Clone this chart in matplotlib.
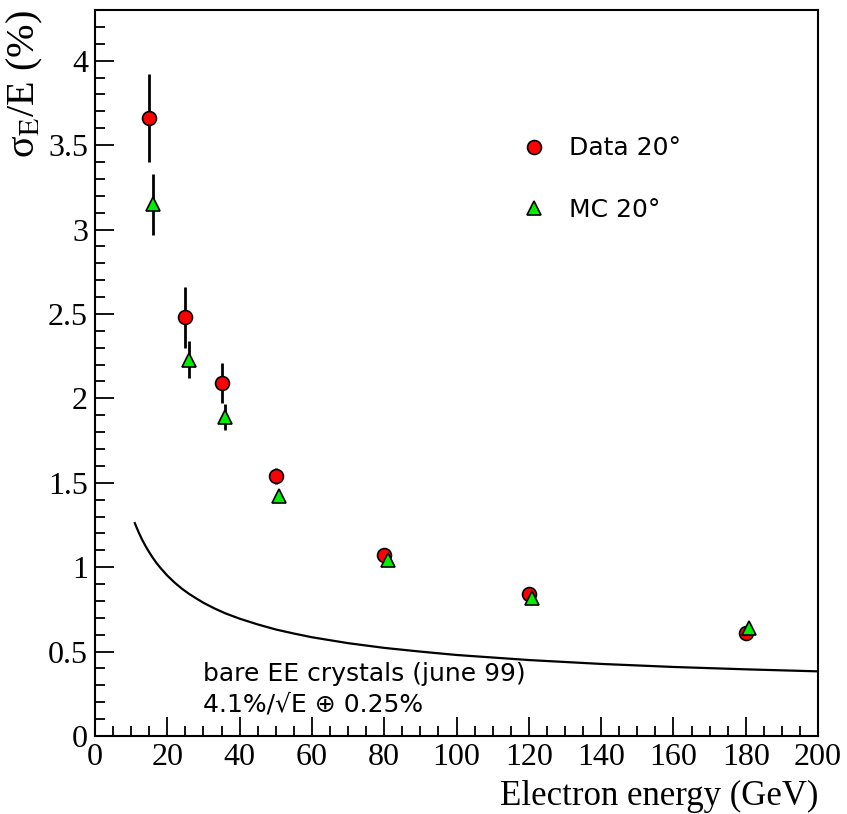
import matplotlib
matplotlib.use("Agg")
import matplotlib.pyplot as plt
from matplotlib.ticker import MultipleLocator, FuncFormatter

# test-beam resolution, 20 degree incidence
DATA_E = [15, 25, 35, 50, 80, 120, 180]
DATA_RES = [3.66, 2.48, 2.09, 1.54, 1.07, 0.84, 0.61]
DATA_ERR = [0.26, 0.18, 0.12, 0.05, 0.03, 0.02, 0.03]

MC_E = [16, 26, 36, 51, 81, 121, 181]
MC_RES = [3.15, 2.23, 1.89, 1.42, 1.04, 0.82, 0.64]
MC_ERR = [0.18, 0.11, 0.075, 0.03, 0.015, 0.015, 0.015]

# bare crystal curve
CURVE_E = [11, 12, 13, 14, 15, 16, 17, 18, 20, 22, 24, 26, 28, 30, 33, 36,
           40, 45, 50, 55, 60, 70, 80, 90, 100, 120, 140, 160, 180, 200]
CURVE_RES = [1.261, 1.210, 1.164, 1.124, 1.088, 1.055, 1.025, 0.998, 0.950,
             0.909, 0.873, 0.842, 0.815, 0.789, 0.756, 0.727, 0.695, 0.661,
             0.631, 0.607, 0.585, 0.550, 0.522, 0.500, 0.480, 0.450, 0.427,
             0.409, 0.395, 0.383]

LABELS = ["Data 20°", "MC 20°"]

serif = "Liberation Serif"
plt.rcParams["mathtext.fontset"] = "stix"

fig = plt.figure(figsize=(8.47, 8.14), dpi=100)
ax = fig.add_axes([0.1122, 0.0958, 0.8536, 0.8919])

ax.plot(CURVE_E, CURVE_RES, color="black", lw=1.6)

ax.errorbar(DATA_E, DATA_RES, yerr=DATA_ERR, fmt="none", ecolor="black",
            elinewidth=2, capsize=0)
ax.errorbar(MC_E, MC_RES, yerr=MC_ERR, fmt="none", ecolor="black",
            elinewidth=2, capsize=0)
h1, = ax.plot(DATA_E, DATA_RES, "o", ms=10, mfc="#ff0000", mec="black",
              mew=1.2, ls="none", label=LABELS[0])
h2, = ax.plot(MC_E, MC_RES, "^", ms=10, mfc="#00ee00", mec="black",
              mew=1.2, ls="none", label=LABELS[1])

ax.set_xlim(0, 200)
ax.set_ylim(0, 4.3)
ax.xaxis.set_major_locator(MultipleLocator(20))
ax.xaxis.set_minor_locator(MultipleLocator(5))
ax.yaxis.set_major_locator(MultipleLocator(0.5))
ax.yaxis.set_minor_locator(MultipleLocator(0.1))
ax.yaxis.set_major_formatter(FuncFormatter(lambda v, p: f"{v:g}"))
ax.tick_params(which="both", direction="in", top=False, right=False,
               labelsize=23, width=1.3)
ax.tick_params(which="major", length=14, pad=5)
ax.tick_params(which="minor", length=7)
for lab in ax.get_xticklabels() + ax.get_yticklabels():
    lab.set_fontfamily(serif)
for sp in ax.spines.values():
    sp.set_linewidth(1.5)

ax.set_xlabel("Electron energy (GeV)", fontfamily=serif, fontsize=25,
              loc="right", labelpad=6)
ax.set_ylabel(r"σ$_{\mathrm{E}}$/E (%)", fontfamily=serif, fontsize=29,
              loc="top", labelpad=2)

ax.legend(handles=[h1, h2], loc="upper left", bbox_to_anchor=(0.541, 0.857),
          frameon=False, labelspacing=1.5, handletextpad=0.4,
          prop={"family": "DejaVu Sans", "size": 18})

ax.text(0.15, 0.085, "bare EE crystals (june 99)", transform=ax.transAxes,
        fontsize=18, family="DejaVu Sans", va="center")
ax.text(0.15, 0.043, "4.1%/\u221aE \u2295 0.25%", transform=ax.transAxes,
        fontsize=18, family="DejaVu Sans", va="center")

fig.savefig("out.png", dpi=100)
